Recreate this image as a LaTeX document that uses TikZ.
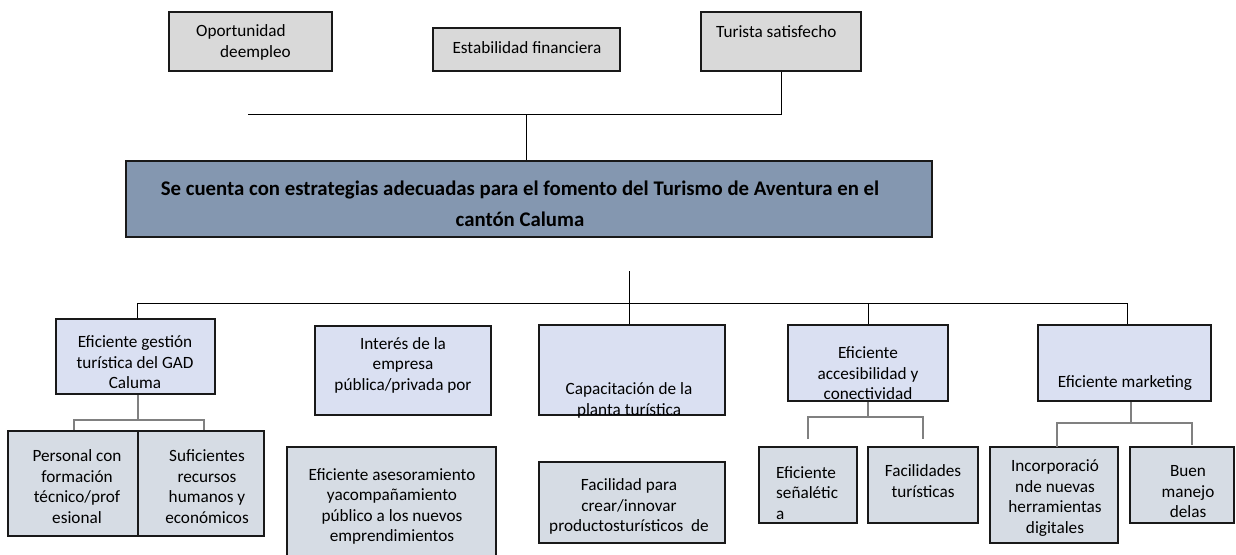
\documentclass[tikz,border=0pt]{standalone}
\usepackage{fontspec}
\setmainfont{Carlito}
\definecolor{topgray}{HTML}{D9D9D9}
\definecolor{slate}{HTML}{8497B0}
\definecolor{lilac}{HTML}{DAE0F2}
\definecolor{mist}{HTML}{D6DCE4}

\begin{document}
\begin{tikzpicture}[x=1pt, y=-1pt, box/.style={draw=black!90, line width=1.6pt, inner sep=0pt}, efecto/.style={box, fill=topgray}, problema/.style={box, fill=slate}, causa/.style={box, fill=lilac}, subcausa/.style={box, fill=mist}, txt/.style={font=\fontsize{17.2}{20.5}\selectfont, align=center, inner sep=0pt}, link/.style={line width=1pt}, sub/.style={draw=black!50, line width=1.5pt}]

\useasboundingbox[fill=white] (0,0) rectangle (1236,554);

% efectos
\node[efecto, minimum width=163, minimum height=59] (empleo) at (250.5,41.5) {};
\node[efecto, minimum width=187, minimum height=43] (finanzas) at (526.5,49.5) {};
\node[efecto, minimum width=160, minimum height=59] (turista) at (781,41.5) {};
\node[txt, align=left, anchor=west] (tEmpleo) at (196,42.5) {Oportunidad\\\hspace*{24pt}deempleo};
\node[txt] (tFinanzas) at (527,48) {Estabilidad financiera};
\node[txt, anchor=west] (tTurista) at (716,32) {Turista satisfecho};
\coordinate (efL) at (248,114); \coordinate (efC) at (526,114);
\draw[link] (turista.south) |- (efL);
\draw[link] (efC) -- (efC |- 0,161);

% problema central
\node[problema, minimum width=806, minimum height=76] (central) at (529,199) {};
\node[txt, font=\fontsize{20.8}{31}\selectfont\bfseries] (tCentral) at (520,203.5) {Se cuenta con estrategias adecuadas para el fomento del Turismo de Aventura en el\\cantón Caluma};

% causas
\node[causa, minimum width=159, minimum height=75] (gestion) at (135.5,356.5) {};
\node[causa, minimum width=176, minimum height=89] (interes) at (403,370.5) {};
\node[causa, minimum width=186, minimum height=90] (capac) at (632,370) {};
\node[causa, minimum width=160, minimum height=76] (acces) at (868,363) {};
\node[causa, minimum width=173, minimum height=76] (mkt) at (1124.5,363) {};
\node[txt] (tGestion) at (135,362.5) {Eficiente gestión\\turística del GAD\\Caluma};
\node[txt] (tInteres) at (403,365) {Interés de la\\empresa\\pública/privada por};
\node[txt] (tCapac) at (629,400.5) {Capacitación de la\\planta turística};
\node[txt] (tAcces) at (868,373.5) {Eficiente\\accesibilidad y\\conectividad};
\node[txt] (tMkt) at (1125,383) {Eficiente marketing};
\coordinate (busL) at (137,303); \coordinate (busR) at (1127,303); \coordinate (busC) at (629,271);
\draw[link] (busL |- gestion.north) -- (busL) -- (busR) -- (busR |- mkt.north);
\draw[link] (busC) -- (busC |- capac.north);
\draw[link] (acces.north) -- (acces.north |- busL);

% subcausas
\node[subcausa, minimum width=130, minimum height=105] (personal) at (73,483.5) {};
\node[subcausa, minimum width=126, minimum height=105] (recursos) at (201,483.5) {};
\node[subcausa, minimum width=209, minimum height=112] (asesor) at (391.5,503) {};
\node[subcausa, minimum width=186, minimum height=81] (facil) at (632,502.5) {};
\node[subcausa, minimum width=98, minimum height=76] (senal) at (808,485) {};
\node[subcausa, minimum width=110, minimum height=76] (factur) at (923,485) {};
\node[subcausa, minimum width=128, minimum height=96] (incorp) at (1054,495) {};
\node[subcausa, minimum width=104, minimum height=76] (buen) at (1182,485) {};
\node[txt] (tPersonal) at (77,486.5) {Personal con\\formación\\técnico/prof\\esional};
\node[txt] (tRecursos) at (207,486.5) {Suficientes\\recursos\\humanos y\\económicos};
\node[txt] (tAsesor) at (392,506.5) {Eficiente asesoramiento\\yacompañamiento\\público a los nuevos\\emprendimientos};
\node[txt] (tFacil) at (629,506.5) {Facilidad para\\crear/innovar\\productosturísticos\ \ de};
\node[txt, align=left, anchor=west] (tSenal) at (776,493) {Eficiente\\señalétic\\a};
\node[txt] (tFactur) at (923,481) {Facilidades\\turísticas};
\node[txt] (tIncorp) at (1055,498) {Incorporació\\nde nuevas\\herramientas\\digitales};
\node[txt] (tBuen) at (1188,492) {Buen\\manejo\\delas};

\coordinate (gA) at (74,420); \coordinate (gB) at (204,420);
\draw[sub] (gestion.south -| 138,0) -- (138,420);
\draw[sub] (gA |- personal.north) -- (gA) -- (gB) -- (gB |- recursos.north);
\coordinate (sA) at (808,439); \coordinate (sB) at (923,439);
\draw[sub] (acces.south) -- ++(0,16);
\draw[sub] (sA) -- ++(0,-22) -| (sB);
\coordinate (mF) at (1131,423); \coordinate (mA) at (1057,447); \coordinate (mB) at (1192,445);
\draw[sub] (mF |- mkt.south) -- (mF);
\draw[sub] (mA) |- (mF) -| (mB);
\end{tikzpicture}
\end{document}
